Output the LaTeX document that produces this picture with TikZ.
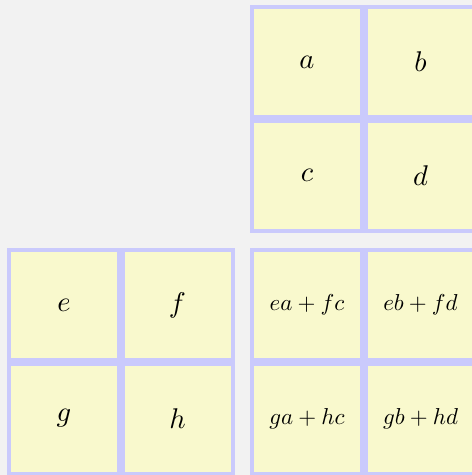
\documentclass[tikz,border=0pt]{standalone}
\usepackage{graphicx}
\usepackage{tikz}
\definecolor{cellfill}{RGB}{249,249,205}
\definecolor{framefill}{RGB}{202,202,252}
\definecolor{bgfill}{RGB}{242,242,242}
\newcommand{\bigtxt}[1]{\scalebox{2.85}{$#1$}}
\newcommand{\prodtxt}[1]{\scalebox{2.3}{$#1$}}
\tikzset{
  frame/.style={fill=framefill, draw=none, minimum width=227.5pt, minimum height=227.5pt, inner sep=0pt},
  cell/.style={fill=cellfill, draw=none, minimum size=106pt, inner sep=0pt}
}
\begin{document}
\begin{tikzpicture}[x=1pt,y=-1pt]
\useasboundingbox (0,0) rectangle (472,475);
\fill[bgfill] (0,0) rectangle (472,475);
% frames
\node[frame] (B) at (363.75,118.75) {};
\node[frame] (A) at (120.75,361.75) {};
\node[frame] (C) at (363.75,361.75) {};
% top-right matrix
\node[cell] (a) at (307,62) {\bigtxt{a}};
\node[cell] (b) at (420.5,62) {\bigtxt{b}};
\node[cell] (c) at (307,175.5) {\bigtxt{c}};
\node[cell] (d) at (420.5,175.5) {\bigtxt{d}};
% bottom-left matrix
\node[cell] (e) at (64,305) {\bigtxt{e}};
\node[cell] (f) at (177.5,305) {\bigtxt{f}};
\node[cell] (g) at (64,418.5) {\bigtxt{g}};
\node[cell] (h) at (177.5,418.5) {\bigtxt{h}};
% product
\node[cell] (p11) at (307,305) {\prodtxt{ea+fc}};
\node[cell] (p12) at (420.5,305) {\prodtxt{eb+fd}};
\node[cell] (p21) at (307,418.5) {\prodtxt{ga+hc}};
\node[cell] (p22) at (420.5,418.5) {\prodtxt{gb+hd}};
\end{tikzpicture}
\end{document}
